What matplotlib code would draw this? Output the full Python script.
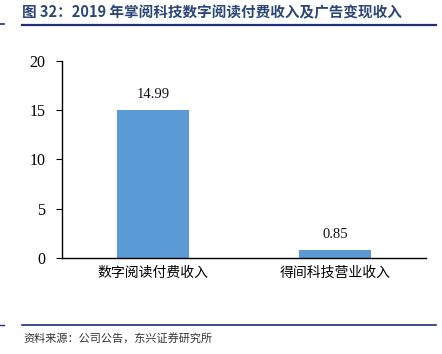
import matplotlib
matplotlib.use("Agg")
import matplotlib.pyplot as plt
from matplotlib.lines import Line2D

categories = ["数字阅读付费收入", "得间科技营业收入"]
values = [14.99, 0.85]
yticks = [0, 5, 10, 15, 20]

title = "图 32：2019 年掌阅科技数字阅读付费收入及广告变现收入"
source = "资料来源：公司公告，东兴证券研究所"

cjk = ["Noto Sans CJK SC", "DejaVu Sans"]
serif = ["Liberation Serif", "DejaVu Serif"]

fig = plt.figure(figsize=(4.42, 3.54), dpi=100)
ax = fig.add_axes([0.140, 0.271, 0.824, 0.557])

x = range(len(categories))
bars = ax.bar(x, values, width=0.4, color="#5B9BD5", zorder=2)
for xi, v in zip(x, values):
    ax.text(xi, v + 0.9, f"{v:.2f}", ha="center", va="bottom",
            fontsize=10.5, family=serif, color="#111111")

ax.set_xlim(-0.5, 1.5)
ax.set_ylim(0, 20)
ax.set_yticks(yticks)
ax.set_yticklabels([str(t) for t in yticks], family=serif, fontsize=11.5)
ax.set_xticks(list(x))
ax.set_xticklabels(categories, family=cjk, fontsize=10)
ax.tick_params(axis="x", length=0, pad=6)
ax.tick_params(axis="y", direction="out", length=4, pad=8)
for s in ["top", "right"]:
    ax.spines[s].set_visible(False)
for s in ["left", "bottom"]:
    ax.spines[s].set_linewidth(1.0)
    ax.spines[s].set_color("#000000")

# header and footer
fig.text(0.050, 0.965, title, family=cjk, fontsize=10.5, fontweight="bold",
         color="#2B4677", va="center", ha="left")
fig.add_artist(Line2D([0.050, 0.987], [0.929, 0.929], color="#1F2F7A",
                      lw=1.6, transform=fig.transFigure))
fig.add_artist(Line2D([0.0, 0.008], [0.932, 0.932], color="#1F2F7A",
                      lw=1.2, transform=fig.transFigure))
fig.add_artist(Line2D([0.050, 0.987], [0.082, 0.082], color="#1F2F7A",
                      lw=1.2, transform=fig.transFigure))
fig.add_artist(Line2D([0.0, 0.008], [0.082, 0.082], color="#1F2F7A",
                      lw=1.0, transform=fig.transFigure))
fig.text(0.052, 0.045, source, family=cjk, fontsize=8, style="italic",
         color="#333333", va="center", ha="left")

fig.savefig("out.png", dpi=100)
